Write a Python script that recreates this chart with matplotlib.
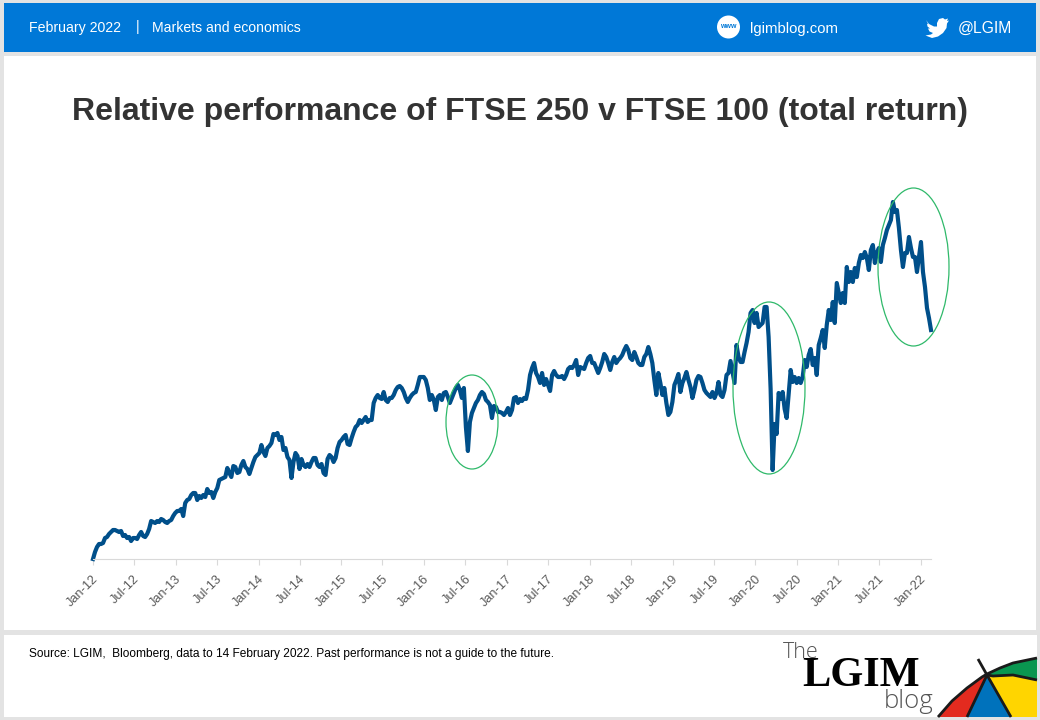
import matplotlib
matplotlib.use("Agg")
import matplotlib.pyplot as plt
from matplotlib.patches import Rectangle, Ellipse, Polygon, Circle
from matplotlib.transforms import ScaledTranslation
import pandas as pd

# Relative performance (index has no printed scale)
perf_a = [0, 7, 12, 15, 15, 16, 21, 22, 25, 27, 29, 29, 28, 27, 28, 23, 24, 21, 22, 18,
          21, 21, 20, 24, 27, 23, 22, 25, 30, 38, 37, 36, 38, 37, 40, 39, 37, 36, 38, 39,
          43, 46, 48, 48, 50, 43, 56, 59, 60, 64, 66, 66, 59, 63, 61, 64, 62, 70, 66, 67,
          61, 67, 71, 79, 80, 81, 82, 91, 86]
perf_b = [82, 93, 92, 86, 87, 94, 98, 92, 90, 85, 91, 97, 102, 104, 106, 114, 107, 103, 111, 113,
          116, 125, 124, 126, 119, 122, 109, 111, 102, 99, 81, 97, 106, 103, 90, 100, 94, 92, 95, 92,
          97, 101, 101, 94, 92, 95, 86, 84, 100, 104, 102, 97, 101, 111, 117, 119, 122, 124, 115, 114,
          121, 127, 132, 134, 139, 136, 139, 142, 137, 139]
perf_c = [139, 156, 161, 164, 161, 160, 167, 159, 157, 161, 161, 164, 169, 172, 173, 171, 167, 161, 157, 161,
          164, 166, 167, 174, 182, 182, 182, 179, 171, 159, 164, 159, 149, 162, 164, 159, 166, 167, 162, 156,
          161, 166, 171, 174, 169, 161, 171, 132, 108, 137, 146, 151, 156, 159, 164, 167, 165, 159, 157, 154,
          141, 153, 152, 147, 147, 146, 144, 147, 151]
perf_d = [144, 149, 161, 162, 156, 160, 158, 161, 160, 169, 184, 191, 196, 186, 182, 176, 186, 174, 180, 174,
          168, 184, 188, 184, 182, 182, 183, 180, 184, 190, 192, 191, 194, 199, 184, 192, 191, 190, 196, 201,
          203, 196, 196, 191, 186, 191, 197, 205, 202, 196, 189, 197, 202, 196, 199, 201, 204, 209, 213, 209,
          201, 199, 207, 202, 196, 194, 194, 202, 205, 212]
perf_e = [205, 196, 179, 164, 186, 176, 164, 171, 156, 144, 147, 157, 174, 179, 185, 167, 176, 181, 187, 179,
          172, 161, 169, 179, 183, 182, 176, 169, 166, 164, 162, 167, 161, 166, 177, 164, 162, 169, 184, 186,
          198, 187, 176, 214, 202, 197, 197, 207, 216, 227, 246, 249, 236, 246, 232, 234, 236, 252, 252, 222,
          170, 89, 135, 125, 166, 160, 167, 150, 141, 165]
perf_f = [189, 177, 182, 176, 181, 176, 182, 199, 192, 204, 210, 194, 201, 184, 214, 221, 229, 211, 234, 249,
          239, 257, 236, 276, 266, 256, 266, 256, 292, 277, 287, 277, 291, 282, 296, 304, 301, 307, 301, 289,
          309, 314, 296, 306, 311, 297, 314, 321, 329, 334, 339, 357, 347, 349, 331, 309, 292, 306, 306, 322,
          311, 302, 302, 287, 302, 317, 287, 272, 251, 241, 229]
perf = perf_a + perf_b + perf_c + perf_d + perf_e + perf_f
dates = pd.date_range("2012-01-01", "2022-02-14", periods=len(perf))
ticks = pd.date_range("2012-01-01", "2022-01-01", freq="6MS")
tick_labels = [d.strftime("%b-%y") for d in ticks]

title = "Relative performance of FTSE 250 v FTSE 100 (total return)"
source = "Source: LGIM,  Bloomberg, data to 14 February 2022. Past performance is not a guide to the future."

plt.rcParams["font.family"] = ["Liberation Sans", "DejaVu Sans"]
fig = plt.figure(figsize=(10.4, 7.2), dpi=100, facecolor="#e3e3e3")

# background layer in pixel coordinates
bg = fig.add_axes([0, 0, 1, 1], zorder=0)
bg.set_xlim(0, 1040)
bg.set_ylim(720, 0)
bg.axis("off")
bg.add_patch(Rectangle((4, 3), 1032, 49, fc="#0078d7", ec="none"))
bg.add_patch(Rectangle((4, 56), 1032, 574, fc="white", ec="none"))
bg.add_patch(Rectangle((4, 635), 1033, 82, fc="white", ec="none"))

bg.text(29, 28, "February 2022", color="white", fontsize=10.2, va="center")
bg.text(138, 27, "|", color="white", fontsize=10, va="center", ha="center")
bg.text(152, 27.5, "Markets and economics", color="white", fontsize=10.1, va="center")
bg.text(750, 28.5, "lgimblog.com", color="white", fontsize=10.7, va="center")
bg.text(958, 28.5, "@LGIM", color="white", fontsize=11.3, va="center")

bg.add_patch(Circle((728.5, 27), 11.5, fc="white", ec="none"))
bg.text(728, 27, "www", color="#0078d7", fontsize=5, ha="center", va="center", fontweight="bold")

# twitter bird
bird = [(926, 20), (929, 24), (934, 26.5), (937, 26.5), (937, 23), (939, 19), (943, 18), (945, 19.5),
        (948, 18.5), (947, 21), (949, 20.5), (947, 23.5), (946.5, 28), (943, 33), (938, 36.5), (932, 38),
        (925.5, 35.5), (931, 34.5), (933, 33), (929.5, 31.5), (928, 28.5), (930, 28.5), (927.5, 26.5), (927, 23.5), (928.5, 24.5)]
bg.add_patch(Polygon(bird, closed=True, fc="white", ec="none"))

bg.text(520, 112, title, color="#333333", fontsize=23.03, fontweight="bold", ha="center", va="center")
bg.text(29, 653.5, source, color="black", fontsize=8.55, va="center")

# logo
bg.text(783, 652, "The", color="#555555", fontsize=15.5, va="center", family="Open Sans", fontweight="light")
bg.text(802, 676, "LGIM", color="black", fontsize=30.5, va="center", family="Liberation Serif", fontweight="bold")
bg.text(884, 702, "blog", color="#555555", fontsize=18.5, va="center", family="Open Sans", fontweight="light")

# umbrella
apex = (987, 675)
rim = [(938, 717), (952, 701), (967, 688), (982, 677)]
bg.add_patch(Polygon(rim + [apex, (967, 717)], fc="#e32b1f", ec="none"))
bg.add_patch(Polygon([apex, (967, 717), (1011, 717)], fc="#0072bc", ec="none"))
bg.add_patch(Polygon([apex, (1011, 717), (1037, 717), (1037, 680), (1013, 675), (993, 676)], fc="#ffd500", ec="none"))
bg.add_patch(Polygon([apex, (1000, 668), (1013, 663), (1037, 658), (1037, 680), (1013, 675), (993, 676)], fc="#0a9650", ec="none"))
for xs, ys in [([938, 952, 967, 982, 987, 1000, 1013, 1037], [717, 701, 688, 677, 674, 668, 663, 658]),
               ([978, 987], [659, 675]),
               ([987, 967], [675, 717]),
               ([987, 1011], [675, 717]),
               ([987, 993, 1013, 1037], [675, 676, 675, 680])]:
    bg.plot(xs, ys, color="#1a1a1a", lw=2.0, solid_capstyle="butt")

# chart
ax = fig.add_axes([93 / 1040, 161 / 720, 838 / 1040, 400 / 720], zorder=1)
ax.patch.set_alpha(0)
ax.plot(dates, perf, color="#004f8a", lw=3.0, clip_on=False)
ax.set_xlim(dates[0], dates[-1])
ax.set_ylim(0, 400)
ax.set_yticks([])
for side in ["top", "left", "right"]:
    ax.spines[side].set_visible(False)
ax.spines["bottom"].set_color("#d9d9d9")
ax.set_xticks(ticks)
ax.set_xticklabels(tick_labels, rotation=45, ha="right", rotation_mode="anchor", color="#595959", fontsize=9.2)
ax.tick_params(axis="x", color="#d9d9d9", length=4, pad=6)
shift = ScaledTranslation(-0.5 / 72, 0, fig.dpi_scale_trans)
for lab in ax.get_xticklabels():
    lab.set_transform(lab.get_transform() + shift)

# green rings on top of the line
top = fig.add_axes([0, 0, 1, 1], zorder=2)
top.set_xlim(0, 1040)
top.set_ylim(720, 0)
top.axis("off")
for cx, cy, w, h in [(472, 422, 52, 94), (769, 388, 72, 172), (913.5, 267, 71, 158)]:
    top.add_patch(Ellipse((cx, cy), w, h, fc="none", ec="#2fb96a", lw=0.9))

fig.savefig("out.png", dpi=100, facecolor=fig.get_facecolor())
